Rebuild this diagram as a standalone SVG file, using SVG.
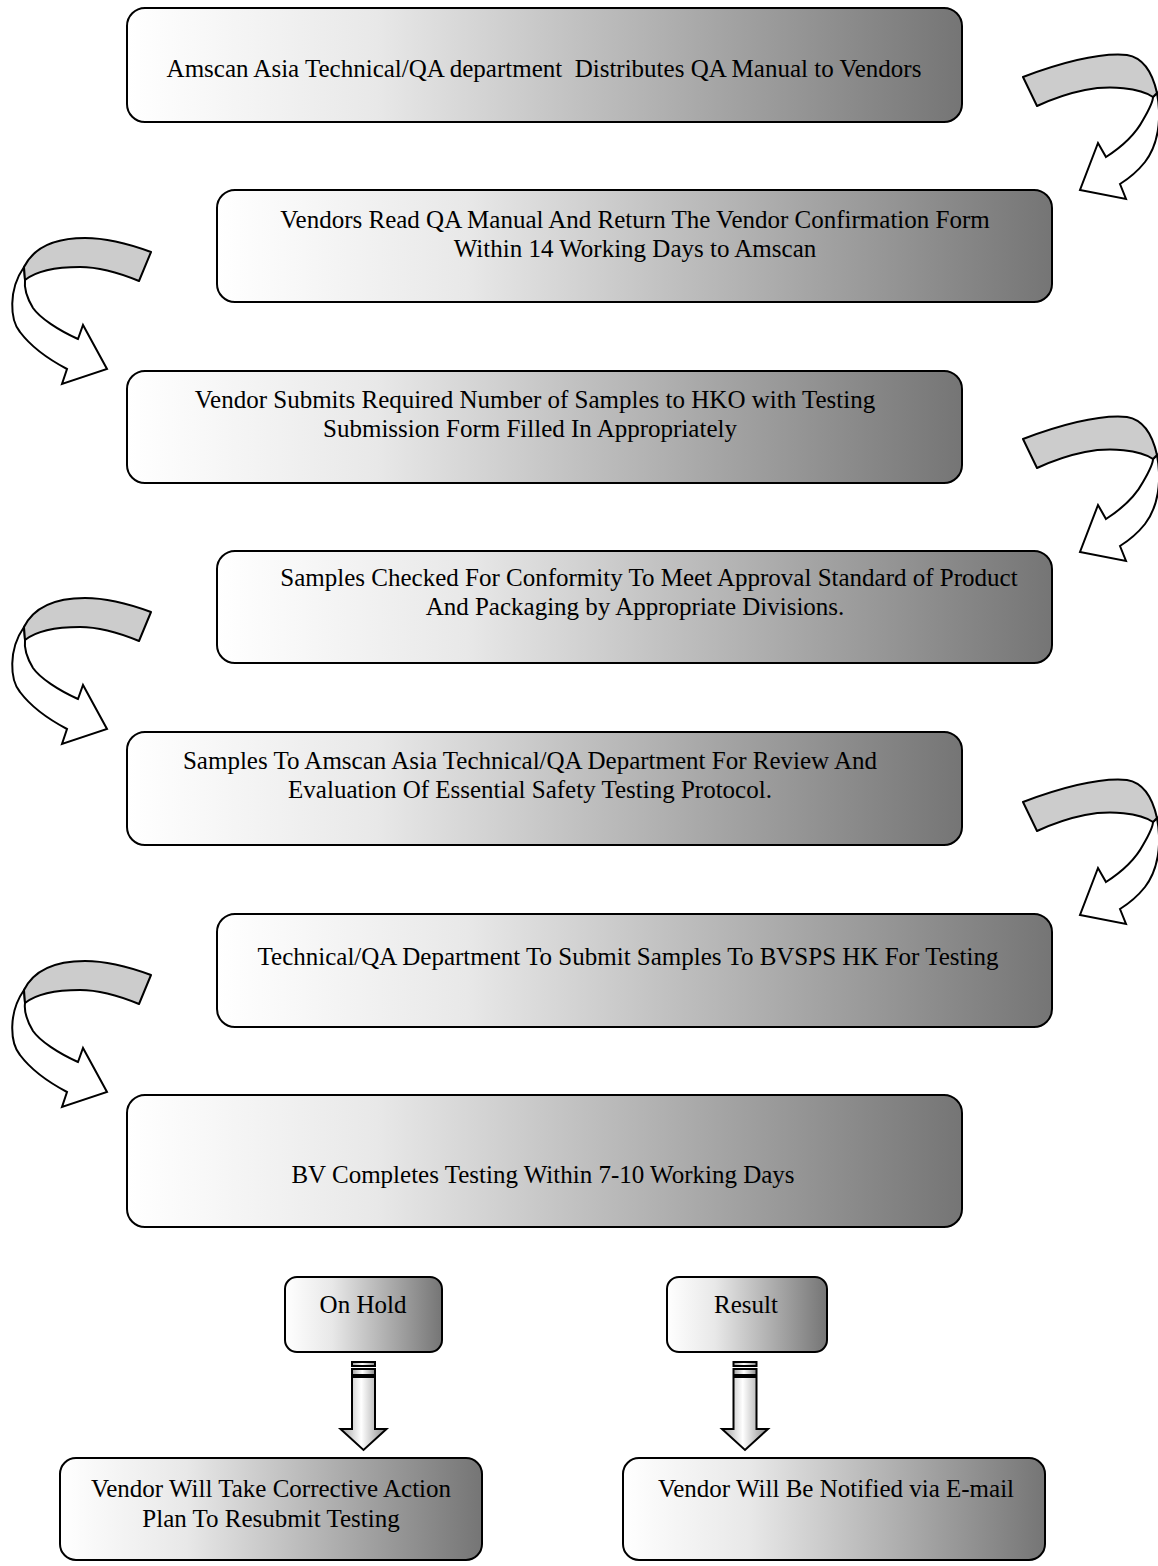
<svg xmlns="http://www.w3.org/2000/svg" xmlns:xlink="http://www.w3.org/1999/xlink" width="1158" height="1566" viewBox="0 0 1158 1566">
<style>
.box{fill:url(#boxGrad);stroke:#000;stroke-width:2}
.lbl{font-family:"Liberation Serif","Times New Roman",serif;font-size:25px;fill:#000;text-anchor:middle}
.band{fill:#cccccc;stroke:#000;stroke-width:2;stroke-linejoin:round}
.body{fill:#ffffff;stroke:#000;stroke-width:2;stroke-linejoin:miter}
.dn{fill:url(#arrGrad);stroke:#000;stroke-width:2}
</style>
<defs>
<linearGradient id="boxGrad" x1="0" y1="0" x2="1" y2="0">
<stop offset="0" stop-color="#ffffff"/>
<stop offset="0.3" stop-color="#e8e8e8"/>
<stop offset="1" stop-color="#757575"/>
</linearGradient>
<linearGradient id="arrGrad" x1="0" y1="0" x2="1" y2="0">
<stop offset="0" stop-color="#a0a0a0"/>
<stop offset="0.45" stop-color="#ffffff"/>
<stop offset="1" stop-color="#8a8a8a"/>
</linearGradient>
<g id="leftArrow">
<path class="body" d="M24,267 C8,290 10,320 20,332 C32,348 50,360 67,369 L62,384 L107,369 L83,325 L78,339 C58,330 40,318 33,308 C27,298 24,288 25,280 Z"/>
<path class="band" d="M24,267 C35,245 60,238 85,238 C110,238 132,245 151,252 L139,281 C122,274 100,267 80,267 C55,267 35,272 25,280 Z"/>
</g>
<g id="rightArrow">
<path class="body" d="M1157,93 C1162,120 1158,145 1145,162 C1137,172 1128,179 1120,184 L1126,199 L1080,190 L1098,143 L1106,157 C1120,148 1135,135 1143,120 C1150,108 1153,100 1153,97 Z"/>
<path class="band" d="M1023,77 C1055,65 1095,52 1127,55 C1145,58 1153,75 1157,93 L1153,97 C1140,88 1110,85 1085,90 C1065,94 1050,100 1037,106 Z"/>
</g>
<g id="downArrow">
<rect class="dn" x="-11.5" y="0" width="23" height="4"/>
<rect class="dn" x="-11.5" y="7" width="23" height="6"/>
<path class="dn" d="M-11.5,15 L11.5,15 L11.5,67 L23,67 L0,88 L-23,67 L-11.5,67 Z"/>
</g>
</defs>

<g id="nodes">
<g id="n1"><rect class="box" x="127" y="8" width="835" height="114" rx="18"/>
<text class="lbl" x="544" y="77" xml:space="preserve">Amscan Asia Technical/QA department  Distributes QA Manual to Vendors</text></g>
<g id="n2"><rect class="box" x="217" y="190" width="835" height="112" rx="18"/>
<text class="lbl" x="635" y="228">Vendors Read QA Manual And Return The Vendor Confirmation Form</text>
<text class="lbl" x="635" y="257">Within 14 Working Days to Amscan</text></g>
<g id="n3"><rect class="box" x="127" y="371" width="835" height="112" rx="18"/>
<text class="lbl" x="535" y="408">Vendor Submits Required Number of Samples to HKO with Testing</text>
<text class="lbl" x="530" y="437">Submission Form Filled In Appropriately</text></g>
<g id="n4"><rect class="box" x="217" y="551" width="835" height="112" rx="18"/>
<text class="lbl" x="649" y="586">Samples Checked For Conformity To Meet Approval Standard of Product</text>
<text class="lbl" x="635" y="615">And Packaging by Appropriate Divisions.</text></g>
<g id="n5"><rect class="box" x="127" y="732" width="835" height="113" rx="18"/>
<text class="lbl" x="530" y="769">Samples To Amscan Asia Technical/QA Department For Review And</text>
<text class="lbl" x="530" y="798">Evaluation Of Essential Safety Testing Protocol.</text></g>
<g id="n6"><rect class="box" x="217" y="914" width="835" height="113" rx="18"/>
<text class="lbl" x="628" y="965">Technical/QA Department To Submit Samples To BVSPS HK For Testing</text></g>
<g id="n7"><rect class="box" x="127" y="1095" width="835" height="132" rx="18"/>
<text class="lbl" x="543" y="1183">BV Completes Testing Within 7-10 Working Days</text></g>
<g id="n8"><rect class="box" x="285" y="1277" width="157" height="75" rx="12"/>
<text class="lbl" x="363" y="1313">On Hold</text></g>
<g id="n9"><rect class="box" x="667" y="1277" width="160" height="75" rx="12"/>
<text class="lbl" x="746" y="1313">Result</text></g>
<g id="n10"><rect class="box" x="60" y="1458" width="422" height="102" rx="16"/>
<text class="lbl" x="271" y="1497">Vendor Will Take Corrective Action</text>
<text class="lbl" x="271" y="1527">Plan To Resubmit Testing</text></g>
<g id="n11"><rect class="box" x="623" y="1458" width="422" height="102" rx="16"/>
<text class="lbl" x="836" y="1497">Vendor Will Be Notified via E-mail</text></g>
</g>

<g id="connectors">
<use xlink:href="#rightArrow"/>
<use xlink:href="#rightArrow" transform="translate(0,362)"/>
<use xlink:href="#rightArrow" transform="translate(0,725)"/>
<use xlink:href="#leftArrow"/>
<use xlink:href="#leftArrow" transform="translate(0,360)"/>
<use xlink:href="#leftArrow" transform="translate(0,723)"/>
<use xlink:href="#downArrow" transform="translate(363.5,1362)"/>
<use xlink:href="#downArrow" transform="translate(745,1362)"/>
</g>
</svg>
